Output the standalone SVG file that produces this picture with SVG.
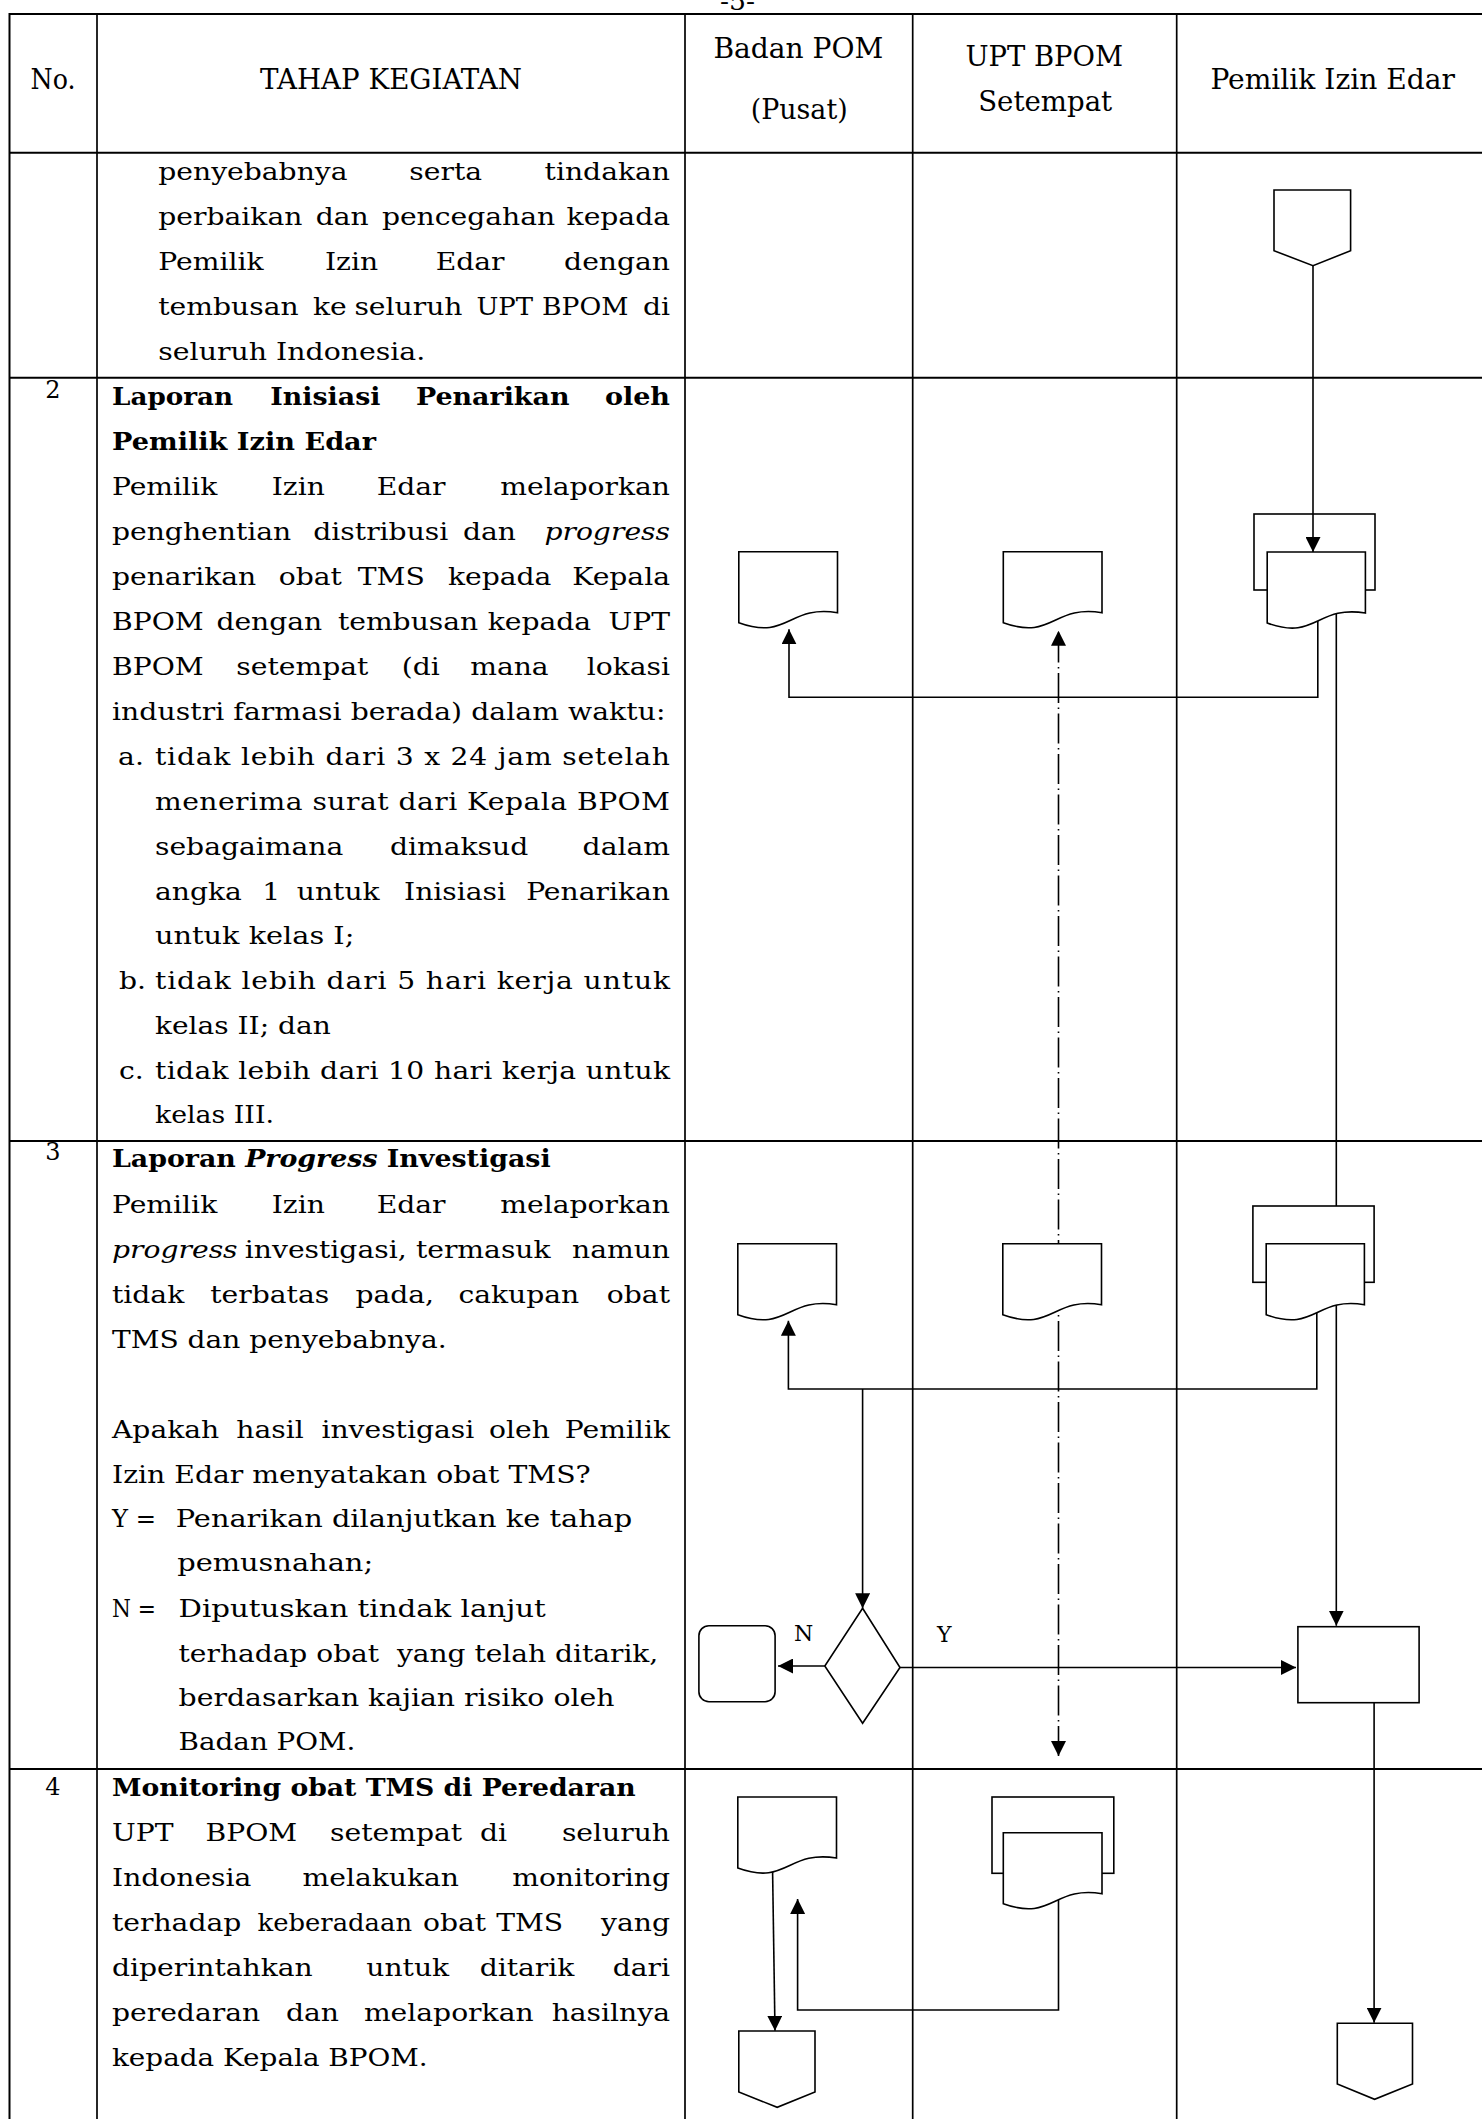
<svg xmlns="http://www.w3.org/2000/svg" width="1482" height="2119" viewBox="0 0 1482 2119">
<style>
.t{font-family:"DejaVu Serif","Liberation Serif",serif;font-size:23.5px;fill:#000}
.b{font-weight:bold}
.i{font-style:italic}
.e{text-anchor:end}
.h{font-family:"DejaVu Serif","Liberation Serif",serif;font-size:28px;text-anchor:middle;fill:#000}
.num{font-family:"DejaVu Serif","Liberation Serif",serif;font-size:24px;text-anchor:middle;fill:#000}
.lbl{font-family:"DejaVu Serif","Liberation Serif",serif;font-size:22px;text-anchor:middle;fill:#000}
.grid line{stroke:#000;stroke-width:2}
.grid .v{stroke-width:1.7}
.shape{fill:#fff;stroke:#000;stroke-width:1.6}
.hollow{fill:none;stroke:#000;stroke-width:1.6}
.conn{fill:none;stroke:#000;stroke-width:1.6}
.dd{stroke-dasharray:30 4.5 1.5 4.5}
</style>
<defs>
<marker id="arr" markerUnits="userSpaceOnUse" markerWidth="15" markerHeight="15" viewBox="0 0 15 15" refX="15" refY="7.5" orient="auto"><path d="M0,0 L15,7.5 L0,15 z" fill="#000"/></marker>
<marker id="arrs" markerUnits="userSpaceOnUse" markerWidth="15" markerHeight="15" viewBox="0 0 15 15" refX="15" refY="7.5" orient="auto-start-reverse"><path d="M0,0 L15,7.5 L0,15 z" fill="#000"/></marker>
</defs>
<rect width="1482" height="2119" fill="#fff"/>

<text class="t" x="737.5" y="9.5" text-anchor="middle" textLength="35" lengthAdjust="spacingAndGlyphs">-5-</text>

<g id="table" class="grid">
<line x1="9.5" y1="14" x2="1482" y2="14"/>
<line x1="9.5" y1="152.7" x2="1482" y2="152.7"/>
<line x1="9.5" y1="377.7" x2="1482" y2="377.7"/>
<line x1="9.5" y1="1141" x2="1482" y2="1141"/>
<line x1="9.5" y1="1769" x2="1482" y2="1769"/>
<line x1="9.5" y1="13" x2="9.5" y2="2119"/>
<line class="v" x1="97" y1="13" x2="97" y2="2119"/>
<line class="v" x1="685" y1="13" x2="685" y2="2119"/>
<line class="v" x1="912.7" y1="13" x2="912.7" y2="2119"/>
<line class="v" x1="1176.7" y1="13" x2="1176.7" y2="2119"/>
</g>

<g id="header">
<text class="h" x="53" y="89" textLength="45" lengthAdjust="spacingAndGlyphs">No.</text>
<text class="h" x="391" y="89" textLength="262" lengthAdjust="spacingAndGlyphs">TAHAP KEGIATAN</text>
<text class="h" x="798.4" y="58" textLength="170" lengthAdjust="spacingAndGlyphs">Badan POM</text>
<text class="h" x="799.2" y="119" textLength="97" lengthAdjust="spacingAndGlyphs">(Pusat)</text>
<text class="h" x="1044.2" y="66" textLength="157.6" lengthAdjust="spacingAndGlyphs">UPT BPOM</text>
<text class="h" x="1045.2" y="111" textLength="134" lengthAdjust="spacingAndGlyphs">Setempat</text>
<text class="h" x="1332.7" y="89" textLength="244.6" lengthAdjust="spacingAndGlyphs">Pemilik Izin Edar</text>
</g>

<g id="numbers">
<text class="num" x="53" y="398">2</text>
<text class="num" x="53" y="1160">3</text>
<text class="num" x="53" y="1795">4</text>
</g>

<g id="tahap-text" class="t" transform="translate(112 0) scale(1.2 1)">
<!-- row 1 -->
<text y="180"><tspan x="38.58">penyebabnya</tspan><tspan x="247.75">serta</tspan></text><text class="e" x="465" y="180">tindakan</text>
<text y="225"><tspan x="38.58">perbaikan</tspan><tspan x="169.75">dan</tspan><tspan x="224.92">pencegahan</tspan></text><text class="e" x="465" y="225">kepada</text>
<text y="270"><tspan x="38.58">Pemilik</tspan><tspan x="177.5">Izin</tspan><tspan x="269.75">Edar</tspan></text><text class="e" x="465" y="270">dengan</text>
<text y="315"><tspan x="38.58">tembusan</tspan><tspan x="167.42">ke</tspan><tspan x="202">seluruh</tspan></text><text x="303.67" y="315" textLength="47.2" lengthAdjust="spacingAndGlyphs">UPT</text><text x="358.33" y="315" textLength="72" lengthAdjust="spacingAndGlyphs">BPOM</text><text class="e" x="465" y="315">di</text>
<text x="38.58" y="360" textLength="222.5" lengthAdjust="spacingAndGlyphs">seluruh Indonesia.</text>
<!-- row 2 -->
<text class="b" x="0" y="405" textLength="100.8" lengthAdjust="spacingAndGlyphs">Laporan</text>
<text class="b" x="131.92" y="405" textLength="91.75" lengthAdjust="spacingAndGlyphs">Inisiasi</text>
<text class="b" x="253.25" y="405" textLength="128" lengthAdjust="spacingAndGlyphs">Penarikan</text>
<text class="b" x="410.75" y="405" textLength="54.25" lengthAdjust="spacingAndGlyphs">oleh</text>
<text class="b" x="0" y="450" textLength="220" lengthAdjust="spacingAndGlyphs">Pemilik Izin Edar</text>
<text y="495"><tspan x="0">Pemilik</tspan><tspan x="133.08">Izin</tspan><tspan x="220.58">Edar</tspan></text><text class="e" x="465" y="495">melaporkan</text>
<text y="540"><tspan x="0">penghentian</tspan><tspan x="167.75">distribusi</tspan><tspan x="292.5">dan</tspan></text><text class="e i" x="465" y="540">progress</text>
<text y="585"><tspan x="0">penarikan</tspan><tspan x="139">obat</tspan><tspan x="204.83">TMS</tspan><tspan x="280">kepada</tspan></text><text class="e" x="465" y="585">Kepala</text>
<text y="630"><tspan x="0">BPOM</tspan><tspan x="87">dengan</tspan><tspan x="188.25">tembusan</tspan><tspan x="313.08">kepada</tspan></text><text class="e" x="465" y="630">UPT</text>
<text y="675"><tspan x="0">BPOM</tspan><tspan x="103.58">setempat</tspan><tspan x="241.42">(di</tspan><tspan x="298.5">mana</tspan></text><text class="e" x="465" y="675">lokasi</text>
<text x="0" y="720" textLength="461.2" lengthAdjust="spacing">industri farmasi berada) dalam waktu:</text>
<text x="5.08" y="765">a.</text>
<text x="35.83" y="765" textLength="429.17" lengthAdjust="spacing">tidak lebih dari 3 x 24 jam setelah</text>
<text x="35.83" y="810" textLength="429.17" lengthAdjust="spacing">menerima surat dari Kepala BPOM</text>
<text y="855"><tspan x="35.83">sebagaimana</tspan><tspan x="231.58">dimaksud</tspan></text><text class="e" x="465" y="855">dalam</text>
<text y="900"><tspan x="35.83">angka</tspan><tspan x="125.25">1</tspan><tspan x="154">untuk</tspan><tspan x="243.33">Inisiasi</tspan></text><text class="e" x="465" y="900">Penarikan</text>
<text x="35.83" y="944" textLength="166.17" lengthAdjust="spacingAndGlyphs">untuk kelas I;</text>
<text x="5.83" y="989">b.</text>
<text x="35.83" y="989" textLength="429.17" lengthAdjust="spacing">tidak lebih dari 5 hari kerja untuk</text>
<text x="35.83" y="1034" textLength="146.5" lengthAdjust="spacingAndGlyphs">kelas II; dan</text>
<text x="5.83" y="1079">c.</text>
<text x="35.83" y="1079" textLength="429.17" lengthAdjust="spacing">tidak lebih dari 10 hari kerja untuk</text>
<text x="35.83" y="1123" textLength="99.17" lengthAdjust="spacingAndGlyphs">kelas III.</text>
<!-- row 3 -->
<text class="b" x="0" y="1167" textLength="365.5" lengthAdjust="spacingAndGlyphs">Laporan <tspan class="i">Progress</tspan> Investigasi</text>
<text y="1213"><tspan x="0">Pemilik</tspan><tspan x="133.08">Izin</tspan><tspan x="220.58">Edar</tspan></text><text class="e" x="465" y="1213">melaporkan</text>
<text y="1258"><tspan x="0" class="i">progress</tspan><tspan x="110.67">investigasi,</tspan><tspan x="253.25">termasuk</tspan></text><text class="e" x="465" y="1258">namun</text>
<text y="1303"><tspan x="0">tidak</tspan><tspan x="81.92">terbatas</tspan><tspan x="202.83">pada,</tspan><tspan x="288.67">cakupan</tspan></text><text class="e" x="465" y="1303">obat</text>
<text x="0" y="1348" textLength="278.8" lengthAdjust="spacingAndGlyphs">TMS dan penyebabnya.</text>
<text y="1438"><tspan x="0">Apakah</tspan><tspan x="103.58">hasil</tspan><tspan x="174.5">investigasi</tspan><tspan x="314.25">oleh</tspan></text><text class="e" x="465" y="1438">Pemilik</text>
<text x="0" y="1483" textLength="398.9" lengthAdjust="spacingAndGlyphs">Izin Edar menyatakan obat TMS?</text>
<text x="0" y="1527" textLength="36.67" lengthAdjust="spacingAndGlyphs">Y =</text>
<text x="53.17" y="1527" textLength="380.4" lengthAdjust="spacingAndGlyphs">Penarikan dilanjutkan ke tahap</text>
<text x="54.33" y="1571" textLength="163.3" lengthAdjust="spacingAndGlyphs">pemusnahan;</text>
<text x="0" y="1617" textLength="36.67" lengthAdjust="spacingAndGlyphs">N =</text>
<text x="55.5" y="1617" textLength="306" lengthAdjust="spacingAndGlyphs">Diputuskan tindak lanjut</text>
<text x="55.5" y="1662" textLength="399.75" lengthAdjust="spacingAndGlyphs" xml:space="preserve">terhadap obat  yang telah ditarik,</text>
<text x="55.5" y="1706" textLength="363.2" lengthAdjust="spacingAndGlyphs">berdasarkan kajian risiko oleh</text>
<text x="55.5" y="1750" textLength="147.3" lengthAdjust="spacingAndGlyphs">Badan POM.</text>
<!-- row 4 -->
<text class="b" x="0" y="1796" textLength="436.3" lengthAdjust="spacingAndGlyphs">Monitoring obat TMS di Peredaran</text>
<text y="1841"><tspan x="0">UPT</tspan><tspan x="78">BPOM</tspan><tspan x="181.7">setempat</tspan><tspan x="306.7">di</tspan></text><text class="e" x="465" y="1841">seluruh</text>
<text y="1886"><tspan x="0">Indonesia</tspan><tspan x="158.75">melakukan</tspan></text><text class="e" x="465" y="1886">monitoring</text>
<text x="0" y="1931">terhadap</text><text x="121.33" y="1931" textLength="128.7" lengthAdjust="spacingAndGlyphs">keberadaan</text><text y="1931"><tspan x="259.17">obat</tspan><tspan x="320.17">TMS</tspan></text><text class="e" x="465" y="1931">yang</text>
<text y="1976"><tspan x="0">diperintahkan</tspan><tspan x="211.92">untuk</tspan><tspan x="306.42">ditarik</tspan></text><text class="e" x="465" y="1976">dari</text>
<text y="2021"><tspan x="0">peredaran</tspan><tspan x="144.92">dan</tspan><tspan x="209.92">melaporkan</tspan></text><text class="e" x="465" y="2021">hasilnya</text>
<text x="0" y="2066" textLength="263.1" lengthAdjust="spacingAndGlyphs">kepada Kepala BPOM.</text>
</g>

<g id="connectors">
<path class="conn" d="M1313,265.7 V552" marker-end="url(#arr)"/>
<path class="conn" d="M1317.8,621 V697.3 H789 V629.3" marker-end="url(#arr)"/>
<path class="conn" d="M1336.3,614 V1625.7" marker-end="url(#arr)"/>
<path class="conn" d="M1316.8,1312 V1389 H788.4 V1320.7" marker-end="url(#arr)"/>
<path class="conn" d="M862.6,1389 V1608.3" marker-end="url(#arr)"/>
<path class="conn" d="M824.8,1666 H778" marker-end="url(#arr)"/>
<path class="conn" d="M900,1667.5 H1296" marker-end="url(#arr)"/>
<path class="conn" d="M1374.1,1702.7 V2022.7" marker-end="url(#arr)"/>
<path class="conn dd" d="M1058.5,1756 V630.7" marker-start="url(#arrs)" marker-end="url(#arr)"/>
<path class="conn" d="M772.6,1872 L775,2030.7" marker-end="url(#arr)"/>
<path class="conn" d="M1058.5,1898 V2010 H797.6 V1899" marker-end="url(#arr)"/>
<text class="lbl" x="803.5" y="1641">N</text>
<text class="lbl" x="944.2" y="1641.5">Y</text>
</g>

<g id="offpage-start">
<path class="shape" d="M1274,190 H1350.6 V250.7 L1313,265.7 L1274,250.7 Z"/>
</g>
<g id="doc-r2-badan">
<path class="shape" d="M738.8,551.7 H837.5 V612.7 C788.15,604.7 788.15,640.7 738.8,622.7 Z"/>
</g>
<g id="doc-r2-upt">
<path class="shape" d="M1003.3,551.7 H1102 V612.7 C1052.65,604.7 1052.65,640.7 1003.3,622.7 Z"/>
</g>
<g id="multidoc-r2-pemilik">
<rect class="hollow" x="1254" y="514" width="121" height="76"/>
<path class="shape" d="M1267.2,552 H1365.4 V613 C1316.3,605 1316.3,641 1267.2,623 Z"/>
</g>
<g id="doc-r3-badan">
<path class="shape" d="M737.8,1243.7 H836.5 V1304.7 C787.15,1296.7 787.15,1332.7 737.8,1314.7 Z"/>
</g>
<g id="doc-r3-upt">
<path class="shape" d="M1002.8,1243.7 H1101.5 V1304.7 C1052.15,1296.7 1052.15,1332.7 1002.8,1314.7 Z"/>
</g>
<g id="multidoc-r3-pemilik">
<rect class="shape" x="1252.9" y="1206" width="121.2" height="76.3"/>
<path class="shape" d="M1266.2,1243.7 H1364.4 V1304.7 C1315.3,1296.7 1315.3,1332.7 1266.2,1314.7 Z"/>
</g>
<g id="decision">
<path class="shape" d="M862.6,1608.3 L900,1667.5 L862.6,1723.3 L824.8,1666 Z"/>
</g>
<g id="terminator-n">
<rect class="shape" x="698.9" y="1625.7" width="76.2" height="76" rx="10" ry="10"/>
</g>
<g id="process-y">
<rect class="shape" x="1297.9" y="1626.7" width="121.2" height="76"/>
</g>
<g id="doc-r4-badan">
<path class="shape" d="M737.8,1797 H836.5 V1858 C787.15,1850 787.15,1886 737.8,1868 Z"/>
</g>
<g id="multidoc-r4-upt">
<rect class="shape" x="992" y="1797" width="121.8" height="76.3"/>
<path class="shape" d="M1003.3,1832.7 H1102 V1893.7 C1052.65,1885.7 1052.65,1921.7 1003.3,1903.7 Z"/>
</g>
<g id="offpage-end-badan">
<path class="shape" d="M738.8,2031 H815 V2092 L777.2,2107.3 L738.8,2092 Z"/>
</g>
<g id="offpage-end-pemilik">
<path class="shape" d="M1337.3,2023.3 H1412.5 V2084 L1374.6,2099.3 L1337.3,2084 Z"/>
</g>
</svg>
